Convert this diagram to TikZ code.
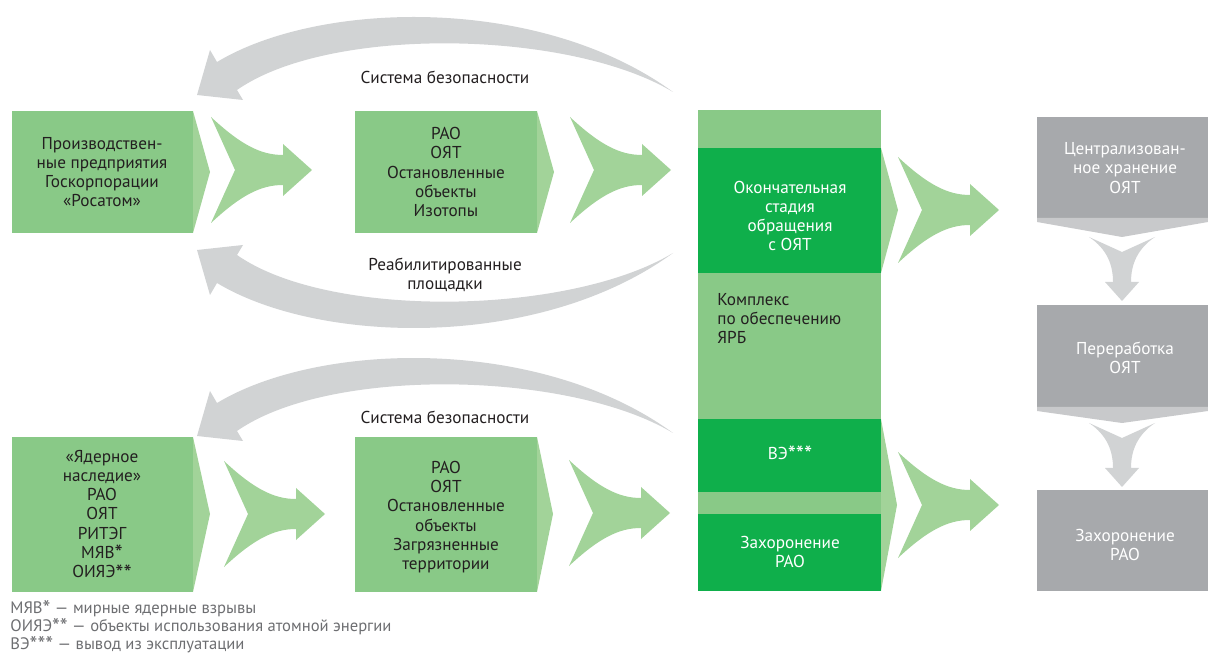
\documentclass[tikz,border=0pt]{standalone}
\usepackage{fontspec}
\setmainfont{PT Sans}
\usepackage{xcolor}

\definecolor{boxgreen}{HTML}{89C987}
\definecolor{chevgreen}{HTML}{A2D399}
\definecolor{darkgreen}{HTML}{0FAF4B}
\definecolor{boxgray}{HTML}{A7A9AC}
\definecolor{tailgray}{HTML}{C8C9CB}
\definecolor{arrowgray}{HTML}{D1D3D4}
\definecolor{textdark}{HTML}{231F20}
\definecolor{notegray}{HTML}{6D6E71}

\newcommand{\boxfont}{\fontsize{8.6}{9.6}\selectfont}
\newcommand{\fnstar}{\smash{\raisebox{-0.4ex}{\scalebox{1.35}{*}}}}

% зелёная стрелка-шеврон (x хвоста, y середины)
\newcommand{\chevron}[2]{%
  \fill[chevgreen, shift={(#1,#2)}] (0,-53) .. controls (30,-25) and (50,-15) .. (72,-15)
    -- (72,-26) -- (101,0) -- (72,26) -- (72,15)
    .. controls (50,15) and (30,25) .. (0,53) -- (24,0) -- cycle;}

% серая стрелка вниз (x середины, y верха)
\newcommand{\downchevron}[2]{%
  \fill[arrowgray, shift={(#1,#2)}] (-33,0) .. controls (-15,12) and (-9,28) .. (-9,45)
    -- (-17,45) -- (0,64) -- (17,45) -- (9,45)
    .. controls (9,28) and (15,12) .. (33,0) -- (0,15) -- cycle;}

\begin{document}
\begin{tikzpicture}[x=0.5pt, y=-0.5pt,
    txt/.style={align=center, text=textdark, font=\boxfont, inner sep=0pt},
    wtxt/.style={align=center, text=white, font=\boxfont, inner sep=0pt},
    note/.style={align=left, text=notegray, font=\fontsize{8.3}{9.0}\selectfont, inner sep=0pt}]
    \useasboundingbox (0,0) rectangle (1208,656);

    % Серые обратные стрелки
    \fill[arrowgray] (197,95) -- (210,50) -- (217,62) .. controls (320,0) and (540,-5) .. (673,92)
        .. controls (570,30) and (330,25) .. (237,90) -- (243,100) -- cycle;
    \begin{scope}[shift={(0,345)}, yscale=-1]
        \fill[arrowgray] (197,95) -- (210,50) -- (217,62) .. controls (320,0) and (540,-5) .. (673,92)
            .. controls (570,30) and (330,25) .. (237,90) -- (243,100) -- cycle;
    \end{scope}
    \begin{scope}[shift={(0,341)}]
        \fill[arrowgray] (197,95) -- (210,50) -- (217,62) .. controls (320,0) and (540,-5) .. (673,92)
            .. controls (570,30) and (330,25) .. (237,90) -- (243,100) -- cycle;
    \end{scope}
    \node[txt] (safetytop) at (445,77) {Система безопасности};
    \node[txt] (rehab) at (445,275) {Реабилитированные\\площадки};
    \node[txt] (safetybottom) at (445,417) {Система безопасности};

    % Левые блоки
    \fill[boxgreen] (12,111) rectangle (193,233);
    \fill[chevgreen] (193,111) -- (210,172) -- (193,233) -- cycle;
    \node[txt] (plants) at (102,172) {Производствен-\\ные предприятия\\Госкорпорации\\«Росатом»};

    \fill[boxgreen] (355,111) rectangle (537,233);
    \fill[chevgreen] (537,111) -- (554,172) -- (537,233) -- cycle;
    \node[txt] (wastetop) at (446,172) {РАО\\ОЯТ\\Остановленные\\объекты\\Изотопы};

    \fill[boxgreen] (12,437) rectangle (193,592);
    \fill[chevgreen] (193,437) -- (210,514) -- (193,592) -- cycle;
    \node[txt] (legacy) at (102,514) {«Ядерное\\наследие»\\РАО\\ОЯТ\\РИТЭГ\\МЯВ\fnstar\\ОИЯЭ\fnstar\fnstar};

    \fill[boxgreen] (355,437) rectangle (537,592);
    \fill[chevgreen] (537,437) -- (553,514) -- (537,592) -- cycle;
    \node[txt] (wastebottom) at (446,517) {РАО\\ОЯТ\\Остановленные\\объекты\\Загрязненные\\территории};

    % Шевроны
    \chevron{211}{170}
    \chevron{570}{170}
    \chevron{224}{514}
    \chevron{569}{513}
    \chevron{898}{210}
    \chevron{898}{505}

    % Правая колонка
    \fill[boxgreen] (698,110) rectangle (881,591);
    \fill[darkgreen] (698,148) rectangle (881,273);
    \fill[darkgreen] (698,419) rectangle (881,492);
    \fill[darkgreen] (698,514) rectangle (881,591);
    \fill[chevgreen] (881,148) -- (898,210) -- (881,273) -- cycle;
    \fill[chevgreen] (881,419) -- (897,505) -- (881,591) -- cycle;
    \node[wtxt] (finalstage) at (790,216) {Окончательная\\стадия\\обращения\\ с ОЯТ};
    \node[txt, align=left, anchor=north west] (complex) at (717,293) {Комплекс\\по обеспечению\\ЯРБ};
    \node[wtxt] (decom) at (790,453) {ВЭ\fnstar\fnstar\fnstar};
    \node[wtxt] (burial) at (790,552) {Захоронение\\РАО};

    % Серые блоки
    \fill[boxgray] (1037,117) rectangle (1208,218);
    \fill[tailgray] (1037,218) -- (1208,218) -- (1208,222) -- (1122,237) -- (1037,222) -- cycle;
    \fill[boxgray] (1037,305) rectangle (1208,407);
    \fill[tailgray] (1037,407) -- (1208,407) -- (1208,411) -- (1122,423) -- (1037,411) -- cycle;
    \fill[boxgray] (1037,490) rectangle (1208,591);
    \downchevron{1122}{237}
    \downchevron{1122}{423}
    \node[wtxt] (storage) at (1125,168) {Централизован-\\ное хранение\\ОЯТ};
    \node[wtxt] (reprocess) at (1125,358) {Переработка\\ОЯТ};
    \node[wtxt] (disposal) at (1125,545) {Захоронение\\РАО};

    % Сноски
    \node[note, anchor=north west] (notes) at (10,601) {МЯВ\fnstar{} — мирные ядерные взрывы\\ОИЯЭ\fnstar\fnstar{} — объекты использования атомной энергии\\ВЭ\fnstar\fnstar\fnstar{} — вывод из эксплуатации};
\end{tikzpicture}
\end{document}
